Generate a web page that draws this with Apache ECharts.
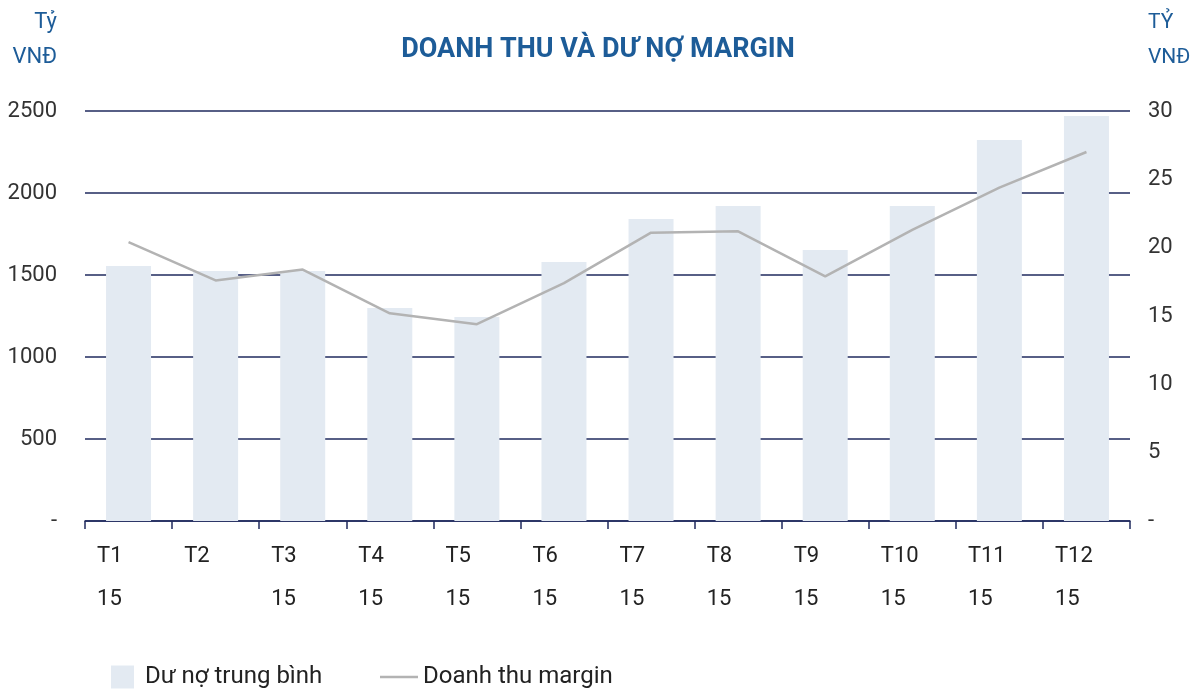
<!DOCTYPE html>
<html>
<head>
<meta charset="utf-8">
<script src="https://cdn.jsdelivr.net/npm/echarts@6/dist/echarts.min.js"></script>
<style>
  html, body { margin: 0; padding: 0; background: #fff; }
  #chart { width: 1196px; height: 689px; }
</style>
</head>
<body>
<div id="chart"></div>
<script>
// du lieu doc tu bieu do
var months = ['T1', 'T2', 'T3', 'T4', 'T5', 'T6', 'T7', 'T8', 'T9', 'T10', 'T11', 'T12'];
var years = ['15', '', '15', '15', '15', '15', '15', '15', '15', '15', '15', '15'];
var duNo = [1555, 1524, 1524, 1299, 1244, 1579, 1841, 1921, 1652, 1921, 2323, 2470];
var doanhThu = [20.4, 17.6, 18.4, 15.2, 14.4, 17.4, 21.1, 21.2, 17.9, 21.3, 24.4, 27.0];

var fontFam = 'Roboto';
var navy = '#1f2a5e';
var blue = '#1d5c98';

var chart = echarts.init(document.getElementById('chart'));

var option = {
    textStyle: { fontFamily: fontFam },
    title: {
        text: 'DOANH THU VÀ DƯ NỢ MARGIN',
        left: 'center',
        top: 32,
        textStyle: { fontSize: 27, fontWeight: 'bold', color: blue, fontFamily: fontFam }
    },
    // don vi hai truc
    graphic: [{
        type: 'text',
        x: 57,
        y: 5,
        style: {
            text: 'Tỷ\nVNĐ', align: 'right', verticalAlign: 'top',
            fontSize: 22, lineHeight: 35, fill: blue, fontFamily: fontFam
        }
    }, {
        type: 'text',
        x: 1148,
        y: 5,
        style: {
            text: 'TỶ\nVNĐ', align: 'left', verticalAlign: 'top',
            fontSize: 21, lineHeight: 35, fill: blue, fontFamily: fontFam
        }
    }],
    legend: [{
        data: ['Dư nợ trung bình'],
        left: 106,
        top: 660,
        itemWidth: 23,
        itemHeight: 23,
        icon: 'rect',
        textStyle: { fontSize: 24, color: '#222', padding: [0, 0, 0, 6] }
    }, {
        data: ['Doanh thu margin'],
        left: 375,
        top: 660,
        itemWidth: 38,
        itemHeight: 2.5,
        icon: 'rect',
        textStyle: { fontSize: 24, color: '#222', padding: [0, 0, 0, 0] }
    }],
    grid: { left: 85, right: 66, top: 111, bottom: 168 },
    xAxis: {
        type: 'category',
        data: months,
        axisLine: { lineStyle: { color: navy, width: 1.5 } },
        axisTick: { show: true, length: 8, lineStyle: { color: navy, width: 1.5 } },
        axisLabel: {
            margin: 14,
            formatter: function (val, idx) {
                return '{a|' + val + '}\n{a|' + years[idx] + '}';
            },
            rich: {
                a: { width: 63, align: 'left', fontSize: 22, lineHeight: 43, color: '#222', fontFamily: fontFam }
            }
        }
    },
    yAxis: [{
        type: 'value',
        min: 0,
        max: 2500,
        interval: 500,
        axisLine: { show: false },
        axisTick: { show: false },
        splitLine: { lineStyle: { color: navy, width: 1.5 } },
        axisLabel: {
            margin: 28,
            fontSize: 22,
            color: '#333',
            formatter: function (v) { return v === 0 ? '-' : v; }
        }
    }, {
        type: 'value',
        min: 0,
        max: 30,
        interval: 5,
        axisLine: { show: false },
        axisTick: { show: false },
        splitLine: { show: false },
        axisLabel: {
            margin: 18,
            fontSize: 22,
            color: '#333',
            formatter: function (v) { return v === 0 ? '-' : v; }
        }
    }],
    series: [{
        name: 'Dư nợ trung bình',
        type: 'bar',
        data: duNo,
        barWidth: 45,
        itemStyle: { color: '#e3eaf2' }
    }, {
        name: 'Doanh thu margin',
        type: 'line',
        yAxisIndex: 1,
        data: doanhThu,
        symbol: 'none',
        lineStyle: { color: '#b3b3b3', width: 2.5 },
        itemStyle: { color: '#b3b3b3' }
    }]
};

chart.setOption(option);
</script>
</body>
</html>
